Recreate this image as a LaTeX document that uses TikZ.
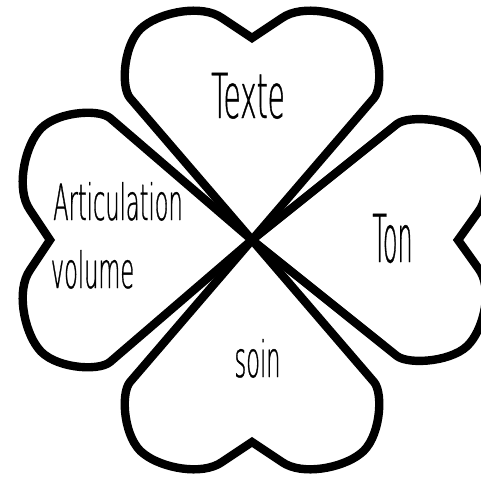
\documentclass[tikz,border=0pt]{standalone}
\usepackage{fontspec}
\newfontfamily\handfont[FakeStretch=0.45,FakeBold=0.6]{DejaVu Sans ExtraLight}
\begin{document}
\begin{tikzpicture}[x=0.5pt,y=0.5pt]
          \tikzstyle{leaf}=[draw=black,line width=4.2pt]
          \tikzstyle{word}=[anchor=base,inner sep=0pt,font=\handfont]
          \useasboundingbox (0,0) rectangle (481,479);
          \begin{scope}[shift={(252,239)}]
              \foreach \a/\sx/\sy in {0/1/1,90/1/1,180/1/1,-90/0.95/1.02}
                  \draw[leaf,rotate=\a,xscale=\sx,yscale=\sy] (0,0) -- (-122,142)
                      .. controls (-132,154) and (-128,200) .. (-108,214)
                      .. controls (-90,228) and (-50,236) .. (-30,222) -- (0,202) -- (30,222)
                      .. controls (50,236) and (90,228) .. (108,214)
                      .. controls (128,200) and (132,154) .. (122,142) -- cycle;
          \end{scope}
          \node [word,font=\handfont\fontsize{31}{31}\selectfont] (texte) at (248,361) {Texte};
          \node [word,font=\handfont\fontsize{25}{25}\selectfont] (artic) at (118,259) {Articulation};
          \node [word,font=\handfont\fontsize{25}{25}\selectfont] (volume) at (92.5,191) {volume};
          \node [word,font=\handfont\fontsize{33}{33}\selectfont] (ton) at (392.5,217) {\scalebox{0.8}[1]{Ton}};
          \node [word,font=\handfont\fontsize{25}{25}\selectfont] (soin) at (257.5,102) {soin};
        \end{tikzpicture}
\end{document}
